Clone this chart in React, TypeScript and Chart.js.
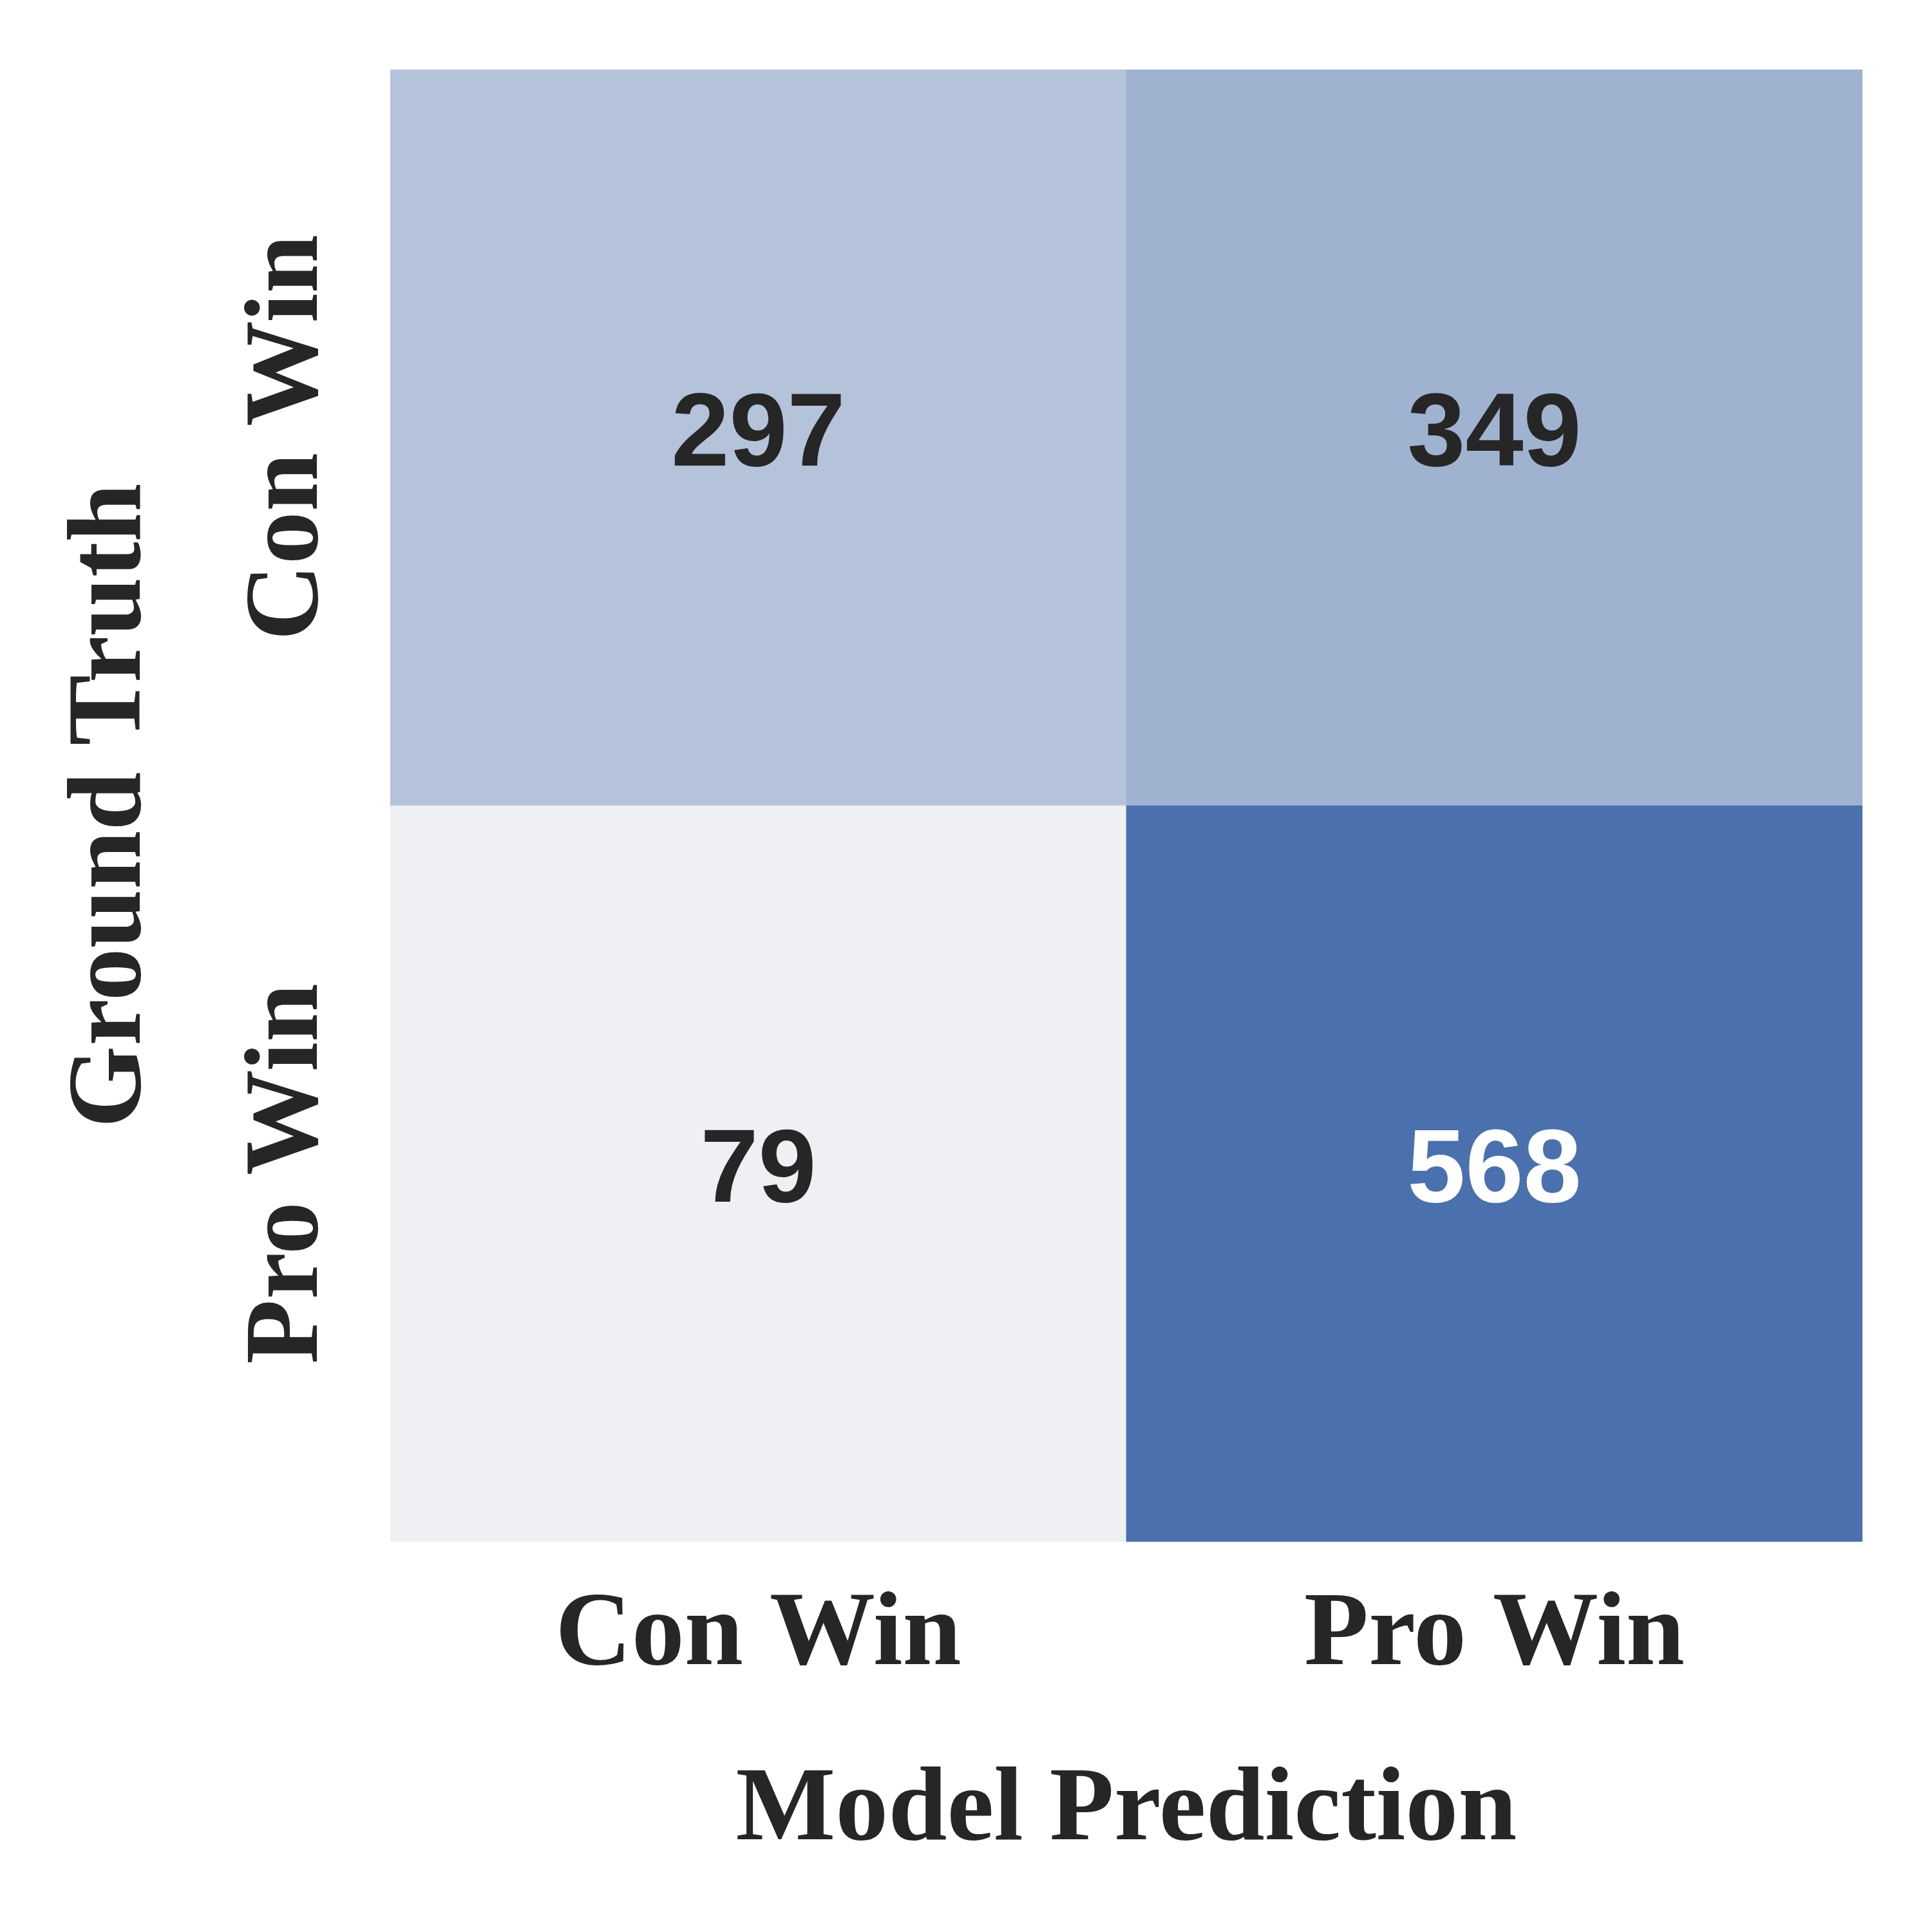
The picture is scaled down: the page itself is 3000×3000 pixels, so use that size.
import React, { useEffect, useRef } from "react";
import { Chart, registerables } from "chart.js";

Chart.register(...registerables);

const predLabels = ["Con Win", "Pro Win"];
const truthLabels = ["Con Win", "Pro Win"];
const rowConWin = [297, 349];
const rowProWin = [79, 568];
const xTitle = "Model Prediction";
const yTitle = "Ground Truth";

const cellColors: Record<number, string> = {
  297: "#b4c3da",
  349: "#9fb3d1",
  79: "#eff0f3",
  568: "#4a71ae",
};
const textColors: Record<number, string> = {
  297: "#262626",
  349: "#262626",
  79: "#262626",
  568: "#ffffff",
};

const SERIF = '"Liberation Serif", "Times New Roman", serif';
const SANS = '"Liberation Sans", Arial, sans-serif';
const LABEL_SIZE = 164;
const NUM_SIZE = 162;

const textPlugin = {
  id: "heatText",
  afterDraw(chart: any) {
    const ctx = chart.ctx;
    const area = chart.chartArea;
    const xs = chart.scales.x;
    const ys = chart.scales.y;
    ctx.save();
    // cell numbers
    chart.data.datasets.forEach((ds: any, di: number) => {
      const meta = chart.getDatasetMeta(di);
      meta.data.forEach((el: any, i: number) => {
        const v = ds.counts[i];
        const cx = el.x;
        const cy = (el.y + el.base) / 2;
        ctx.font = `bold ${NUM_SIZE}px ${SANS}`;
        ctx.fillStyle = textColors[v];
        ctx.textAlign = "center";
        ctx.textBaseline = "alphabetic";
        ctx.fillText(String(v), cx, cy + 0.27 * NUM_SIZE);
      });
    });
    ctx.fillStyle = "#262626";
    ctx.font = `bold ${LABEL_SIZE}px ${SERIF}`;
    ctx.textAlign = "center";
    ctx.textBaseline = "alphabetic";
    // x tick labels
    predLabels.forEach((lab, i) => {
      ctx.fillText(lab, xs.getPixelForValue(i), area.bottom + 190);
    });
    // x title
    ctx.fillText(xTitle, (area.left + area.right) / 2, area.bottom + 462);
    // y tick labels (rotated)
    const rowCenters = [1.5, 0.5];
    truthLabels.forEach((lab, i) => {
      ctx.save();
      ctx.translate(area.left - 114, ys.getPixelForValue(rowCenters[i]));
      ctx.rotate(-Math.PI / 2);
      ctx.fillText(lab, 0, 0);
      ctx.restore();
    });
    ctx.save();
    ctx.translate(area.left - 389, (area.top + area.bottom) / 2);
    ctx.rotate(-Math.PI / 2);
    ctx.fillText(yTitle, 0, 0);
    ctx.restore();
    ctx.restore();
  },
};

export default function App() {
  const ref = useRef<HTMLCanvasElement | null>(null);
  useEffect(() => {
    if (!ref.current) return;
    const chart = new Chart(ref.current, {
      type: "bar",
      data: {
        labels: predLabels,
        datasets: [
          {
            label: truthLabels[1],
            data: rowProWin.map(() => 1),
            counts: rowProWin,
            backgroundColor: rowProWin.map((v) => cellColors[v]),
            borderWidth: 0,
            barPercentage: 1,
            categoryPercentage: 1,
          } as any,
          {
            label: truthLabels[0],
            data: rowConWin.map(() => 1),
            counts: rowConWin,
            backgroundColor: rowConWin.map((v) => cellColors[v]),
            borderWidth: 0,
            barPercentage: 1,
            categoryPercentage: 1,
          } as any,
        ],
      },
      options: {
        animation: false,
        responsive: false,
        maintainAspectRatio: false,
        devicePixelRatio: 1,
        layout: { padding: { left: 606, top: 108, right: 108, bottom: 606 } },
        plugins: { legend: { display: false }, tooltip: { enabled: false } },
        scales: {
          x: { stacked: true, display: false, grid: { display: false } },
          y: { stacked: true, display: false, min: 0, max: 2, grid: { display: false } },
        },
      },
      plugins: [textPlugin],
    });
    return () => chart.destroy();
  }, []);
  return (
    <div style={{ position: "absolute", left: 0, top: 0, width: 3000, height: 3000, background: "#ffffff" }}>
      <canvas ref={ref} width={3000} height={3000} style={{ width: 3000, height: 3000 }} />
    </div>
  );
}
